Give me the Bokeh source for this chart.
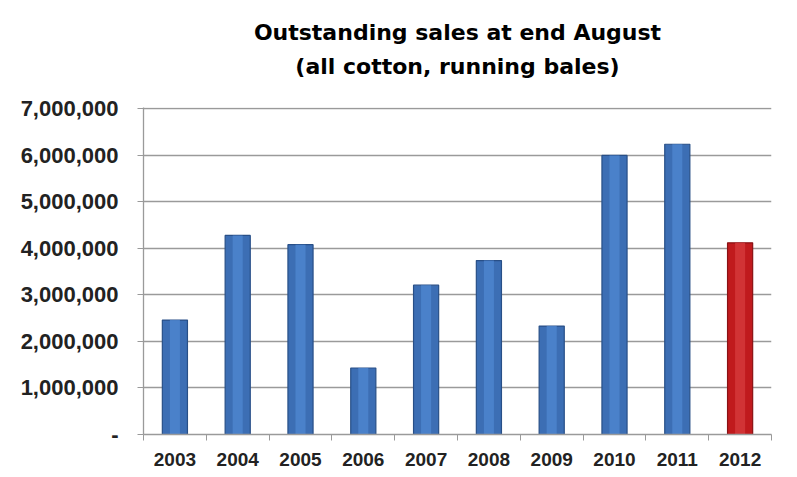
from bokeh.plotting import figure
from bokeh.models import ColumnDataSource, FixedTicker, Range1d, Title
from bokeh.embed import file_html
from bokeh.resources import INLINE

years = ["2003", "2004", "2005", "2006", "2007", "2008", "2009", "2010", "2011", "2012"]
outstanding = [2460000, 4280000, 4080000, 1430000, 3210000, 3740000, 2330000, 6000000, 6240000, 4120000]
y_ticks = [0, 1000000, 2000000, 3000000, 4000000, 5000000, 6000000, 7000000]
highlight_year = "2012"
title_lines = ["Outstanding sales at end August", "(all cotton, running bales)"]

xs = [i + 0.5 for i in range(len(years))]
base_col = ["#c01a1d" if y == highlight_year else "#3c6eb4" for y in years]
edge_col = ["#8a1214" if y == highlight_year else "#284f87" for y in years]
shine_col = ["#d43a3c" if y == highlight_year else "#4e86d0" for y in years]
src = ColumnDataSource(dict(x=xs, top=outstanding, base=base_col, edge=edge_col, shine=shine_col, year=years))

p = figure(width=797, height=477, output_backend="svg", toolbar_location=None,
           x_range=Range1d(0, len(years)), y_range=Range1d(0, 7030000),
           min_border_left=143, min_border_right=26, min_border_top=107, min_border_bottom=43)

def style_title(t, standoff, size="22px"):
    t.align = "center"
    t.text_font = "DejaVu Sans"
    t.text_font_size = size
    t.text_font_style = "bold"
    t.text_color = "#000000"
    t.offset = -40
    t.standoff = standoff

# p.title is outermost; titles added first sit nearest the frame
p.title.text = title_lines[0]
style_title(p.title, 8)
spacer = Title(text=" ")
style_title(spacer, 13, "10px")
p.add_layout(spacer, "above")
t2 = Title(text=title_lines[1])
style_title(t2, 6)
p.add_layout(t2, "above")

p.vbar(x="x", top="top", width=0.40, source=src, fill_color="base", line_color="edge", line_width=1.2)
p.vbar(x="x", top="top", width=0.16, source=src, fill_color="shine", line_color=None, fill_alpha=0.8)

p.outline_line_color = None
p.background_fill_color = "white"
p.border_fill_color = "white"

p.xgrid.visible = False
p.ygrid.grid_line_color = "#9a9a9a"
p.ygrid.grid_line_width = 1.3
p.ygrid.ticker = FixedTicker(ticks=y_ticks)

# y axis
p.yaxis.ticker = FixedTicker(ticks=y_ticks)
p.yaxis.major_label_overrides = {t: ("-" if t == 0 else f"{t:,}") for t in y_ticks}
p.yaxis.major_label_text_font = "Liberation Sans"
p.yaxis.major_label_text_font_style = "bold"
p.yaxis.major_label_text_font_size = "22px"
p.yaxis.major_label_text_color = "#222222"
p.yaxis.axis_line_color = "#9a9a9a"
p.yaxis.axis_line_width = 1.3
p.yaxis.major_tick_line_color = "#9a9a9a"
p.yaxis.major_tick_in = 0
p.yaxis.major_tick_out = 6
p.yaxis.minor_tick_line_color = None
p.yaxis.major_label_standoff = 19

# x axis: labels at bar centres, ticks at category boundaries
p.xaxis.ticker = FixedTicker(ticks=xs, minor_ticks=list(range(len(years) + 1)))
p.xaxis.major_label_overrides = {x: y for x, y in zip(xs, years)}
p.xaxis.major_label_text_font = "Liberation Sans"
p.xaxis.major_label_text_font_style = "bold"
p.xaxis.major_label_text_font_size = "19px"
p.xaxis.major_label_text_color = "#222222"
p.xaxis.axis_line_color = "#9a9a9a"
p.xaxis.axis_line_width = 1.3
p.xaxis.major_tick_line_color = None
p.xaxis.major_tick_in = 0
p.xaxis.major_tick_out = 0
p.xaxis.minor_tick_line_color = "#9a9a9a"
p.xaxis.minor_tick_in = 0
p.xaxis.minor_tick_out = 6
p.xaxis.major_label_standoff = 12

open("out.html", "w").write(file_html(p, INLINE))
